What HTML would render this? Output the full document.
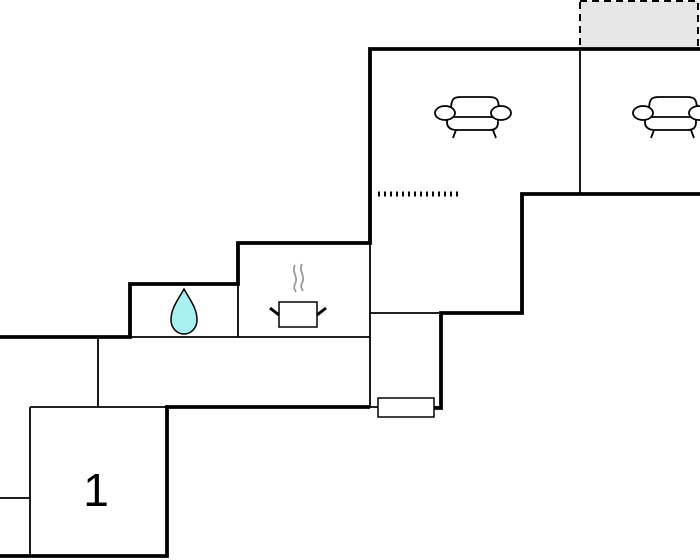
<!DOCTYPE html>
<html><head><style>body{margin:0;background:#fff}svg{display:block}</style></head><body>
<svg width="700" height="560" viewBox="0 0 700 560" xmlns="http://www.w3.org/2000/svg">
<rect x="580" y="1" width="118" height="48" fill="#e6e6e6" stroke="#000" stroke-width="2" stroke-dasharray="7,5"/>
<g stroke="#000" stroke-width="1.8" fill="none">
<line x1="370" y1="243" x2="370" y2="407"/>
<line x1="370" y1="313" x2="441" y2="313"/>
<line x1="130" y1="337" x2="370" y2="337"/>
<line x1="238" y1="284" x2="238" y2="337"/>
<line x1="98" y1="337" x2="98" y2="407"/>
<line x1="30" y1="407" x2="167" y2="407"/>
<line x1="30" y1="407" x2="30" y2="556"/>
<line x1="0" y1="498" x2="30" y2="498"/>
<line x1="580" y1="49" x2="580" y2="194"/>
<line x1="370" y1="407" x2="441" y2="407"/>
</g>
<g stroke="#000" stroke-width="3.8" fill="none">
<polyline points="0,337 130,337 130,284 238,284 238,243 370,243 370,49 700,49"/>
<polyline points="700,194 522,194 522,313 441,313 441,408 434,408"/>
<polyline points="370,407 167,407 167,556 0,556"/>
</g>
<rect x="378" y="398" width="56" height="19" fill="#fff" stroke="#000" stroke-width="1.5"/>
<line x1="378" y1="194" x2="458" y2="194" stroke="#000" stroke-width="5" stroke-dasharray="2,4"/>
<path d="M184,289 C178,300 171,308 171,320 C171,328 177,334 184,334 C191,334 197,328 197,320 C197,308 190,300 184,289 Z" fill="#a8f0f4" stroke="#000" stroke-width="1.5"/>
<g stroke="#000" stroke-width="1.5" fill="#fff">
<rect x="279" y="302" width="38" height="25"/>
<line x1="270" y1="308" x2="279" y2="315" stroke-width="3"/>
<line x1="326" y1="308" x2="317" y2="315" stroke-width="3"/>
</g>
<path d="M295,265 c-4,7 4,12 0,19 c-2,4 0,6 1,8 M302,264 c-4,7 4,12 0,19 c-2,4 0,6 1,8" stroke="#999" stroke-width="1.8" fill="none"/>
<g id="s" stroke="#000" stroke-width="1.8" fill="#fff">
<path d="M451,110 c0,-13 4,-13 11,-13 h26 c7,0 11,0 11,13 M447,117 v5 c0,6 4,8 10,8 h32 c6,0 9,-2 9,-8 v-5"/>
<line x1="454" y1="117" x2="493" y2="117"/>
<ellipse cx="445" cy="113" rx="10" ry="7"/>
<ellipse cx="501" cy="113" rx="10" ry="7"/>
<line x1="456" y1="130" x2="453" y2="138"/>
<line x1="493" y1="130" x2="496" y2="138"/>
</g>
<use href="#s" x="198"/>
<text x="96" y="506" font-family="Liberation Sans, sans-serif" font-size="46" text-anchor="middle">1</text>
</svg>
</body></html>
